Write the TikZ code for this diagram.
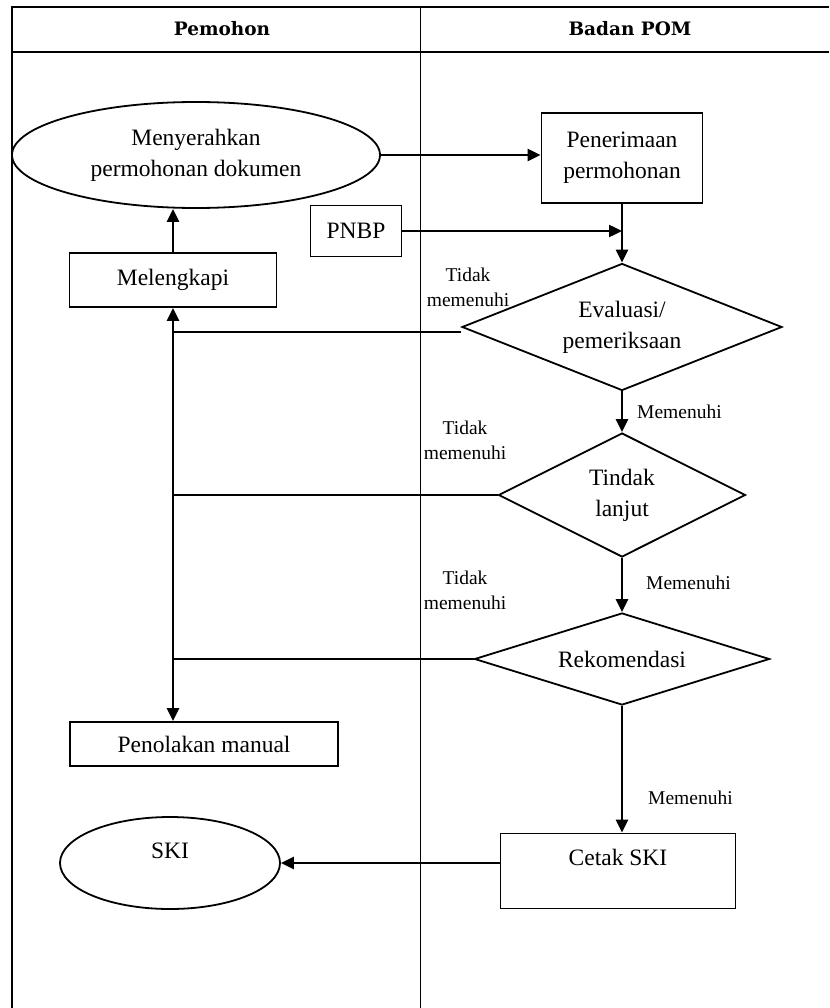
\documentclass[tikz,border=0pt]{standalone}
\usepackage{fontspec}
\setmainfont{Liberation Serif}
\newfontfamily\headfont{DejaVu Serif}
\usetikzlibrary{arrows.meta, shapes.geometric}

\begin{document}
\begin{tikzpicture}[
    x=1pt, y=-1pt,
    every node/.style={font=\fontsize{23.5}{31}\selectfont},
    box/.style={rectangle, draw, line width=1.8pt, align=center, inner sep=4pt},
    oval/.style={ellipse, draw, line width=1.8pt, align=center, inner sep=0pt},
    decision/.style={diamond, draw, line width=1.8pt, align=center, inner sep=0pt},
    arrow/.style={-{Triangle[length=13pt, width=12pt]}, line width=2.4pt},
    link/.style={line width=1.8pt},
    note/.style={font=\fontsize{19.5}{25}\selectfont, align=center, inner sep=1pt},
    title/.style={font=\headfont\bfseries\fontsize{18.5}{22}\selectfont}
]
\useasboundingbox (0,0) rectangle (829,1008);

% ============ LANES ============
\draw[line width=1.6pt] (12,1008) -- (12,7) -- (829,7);
\draw[line width=1.6pt] (12,52) -- (829,52);
\draw[line width=0.8pt] (420,7) -- (420,1008);
\node[title] (lane1) at (222,29) {Pemohon};
\node[title] (lane2) at (630,29) {Badan POM};

% ============ PEMOHON (LEFT) ============
\node[oval, minimum width=368pt, minimum height=106pt] (submit) at (196,155) {Menyerahkan\\permohonan dokumen};
\node[box, minimum width=207pt, minimum height=54pt] (complete) at (173,280) {Melengkapi};
\node[box, minimum width=268pt, minimum height=44pt] (reject) at (204,744) {Penolakan manual};
\node[oval, minimum width=220pt, minimum height=92pt, text depth=24pt] (ski) at (170,863) {SKI};

% ============ BADAN POM (RIGHT) ============
\node[box, minimum width=161pt, minimum height=90pt] (receive) at (622,158) {Penerimaan\\permohonan};
\node[box, minimum width=91pt, minimum height=51pt] (pnbp) at (356,231) {PNBP};
\node[decision, aspect=2.5, minimum width=320pt, minimum height=127pt] (eval) at (622,327) {Evaluasi/\\pemeriksaan};
\node[decision, aspect=2, minimum width=247pt, minimum height=124pt] (follow) at (622,495) {Tindak\\lanjut};
\node[decision, aspect=3.2, minimum width=295pt, minimum height=92pt] (recommend) at (622,659) {Rekomendasi};
\node[box, minimum width=235pt, minimum height=75pt, text depth=28pt] (print) at (618,871) {Cetak SKI};

% Labels
\node[note] (fail1) at (468,287) {Tidak\\memenuhi};
\node[note] (fail2) at (465,440) {Tidak\\memenuhi};
\node[note] (fail3) at (465,590) {Tidak\\memenuhi};
\node[note, anchor=west] (pass1) at (636,412) {Memenuhi};
\node[note, anchor=west] (pass2) at (645,583) {Memenuhi};
\node[note, anchor=west] (pass3) at (647,798) {Memenuhi};

% ============ CONNECTORS ============
\draw[arrow] (submit.east) -- (submit.east -| receive.west);
\draw[arrow] (receive.south) -- (eval.north);
\draw[arrow] (pnbp.east) -- (pnbp.east -| receive.south);
\draw[arrow] (eval.south) -- (follow.north);
\draw[arrow] (follow.south) -- (recommend.north);
\draw[arrow] (recommend.south) -- (recommend.south |- print.north);
\draw[arrow] (print.west |- ski.east) -- (ski.east);
\draw[arrow] (complete.north) -- (complete.north |- submit.south);

% Rejection trunk
\coordinate (trunk) at ([yshift=-5pt]eval.west -| complete.south);
\draw[link] ([yshift=-5pt]eval.west) -- (trunk);
\draw[link] (follow.west) -- (follow.west -| trunk);
\draw[link] (recommend.west) -- (recommend.west -| trunk);
\draw[arrow] (trunk) -- (complete.south);
\draw[arrow] (trunk) -- (trunk |- reject.north);

\end{tikzpicture}
\end{document}
